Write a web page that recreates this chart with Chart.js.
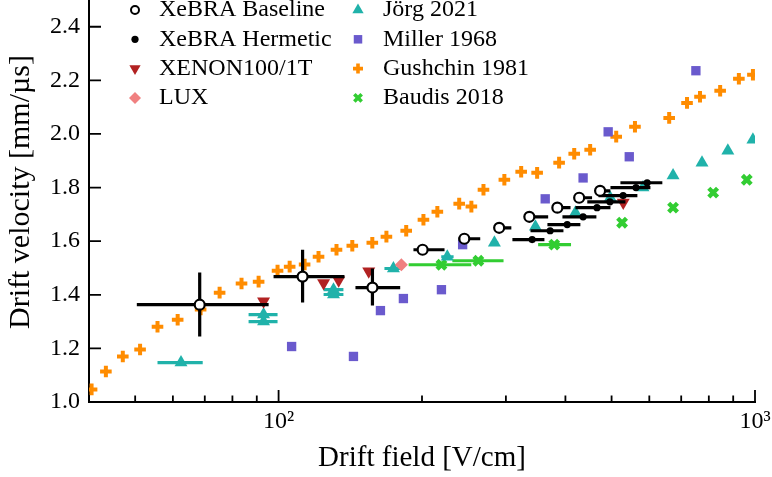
<!DOCTYPE html>
<html lang="en">
<head>
<meta charset="UTF-8">
<title>Drift velocity vs drift field</title>
<style>
  html, body { margin: 0; padding: 0; background: #fff; }
  #wrap { width: 772px; height: 477px; }
</style>
</head>
<body>
<script src="https://cdn.jsdelivr.net/npm/chart.js"></script>
<div id="wrap"><canvas id="chart" width="772" height="477"></canvas></div>
<script>
// axis ticks
const xMajorTicks = [100, 1000];
const xMajorLabels = ['10\u00B2', '10\u00B3'];
const xMinorTicks = [40, 50, 60, 70, 80, 90, 200, 300, 400, 500, 600, 700, 800, 900];
const yTickValues = [1.0, 1.2, 1.4, 1.6, 1.8, 2.0, 2.2, 2.4];
const yMin = 1.0;
const yMax = 2.567;

// XeBRA Baseline
const baseField = [68.3, 112.3, 157.4, 200.6, 245.4, 290.4, 336, 384.7, 427.5, 473];
const baseVel = [1.363, 1.468, 1.427, 1.568, 1.609, 1.650, 1.691, 1.725, 1.762, 1.788];
const baseFieldLo = [50.4, 97.6, 145, 191.9, 238.5, 284.5, 330, 378, 420, 465];
const baseFieldHi = [95.3, 137.5, 180, 223, 265, 308, 368, 410, 455, 497];
const baseVelLo = [1.244, 1.371, 1.360, null, null, null, null, null, null, null];
const baseVelHi = [1.483, 1.568, 1.498, null, null, null, null, null, null, null];

// XeBRA Hermetic
const hermField = [340.6, 371.5, 403.5, 435.7, 466, 496, 528.7, 562.6, 593.8];
const hermVel = [1.606, 1.639, 1.662, 1.691, 1.725, 1.747, 1.770, 1.800, 1.818];
const hermFieldLo = [309.6, 337.9, 366.7, 394.3, 419.8, 444.6, 469.4, 497.3, 521.8];
const hermFieldHi = [361.4, 396.2, 430, 464.6, 497.3, 534.6, 566.4, 603.2, 639];

// XENON100/1T
const xenonField = [93, 124.3, 133.7, 154.6, 529];
const xenonVel = [1.376, 1.444, 1.454, 1.488, 1.744];

// LUX
const luxField = [181];
const luxVel = [1.512];

// Jörg 2021
const jorgField = [62.4, 93, 93, 130.4, 130.4, 174.2, 226, 283.8, 346, 419.8, 496.8, 582, 673, 774, 877, 990];
const jorgVel = [1.147, 1.300, 1.326, 1.401, 1.419, 1.498, 1.542, 1.594, 1.654, 1.706, 1.762, 1.800, 1.845, 1.893, 1.937, 1.978];
const jorgFieldLo = [55.7, 86.5, 86.5, 124.3, 124.3, 166.8, 219.5, 279, null, null, null, null, null, null, null, null];
const jorgFieldHi = [69.3, 99.5, 99.5, 136.8, 136.8, 182, 233, 289, null, null, null, null, null, null, null, null];
const jorgVelLo = [null, null, null, null, null, null, 1.532, 1.584, 1.644, 1.696, 1.752, 1.790, 1.833, 1.881, 1.925, 1.966];
const jorgVelHi = [null, null, null, null, null, null, 1.552, 1.604, 1.664, 1.716, 1.772, 1.810, 1.857, 1.905, 1.949, 1.990];

// Miller 1968
const millerField = [106.5, 143.6, 163.6, 182.8, 219.7, 243.4, 362.8, 435.7, 491.8, 544.6, 751.5];
const millerVel = [1.207, 1.170, 1.341, 1.386, 1.419, 1.587, 1.758, 1.836, 2.008, 1.915, 2.236];

// Gushchin 1981
const gushField = [40.5, 43.4, 47.1, 51.2, 55.7, 61.4, 68.6, 75.2, 83.6, 90.8, 99.5, 105.5, 113.4, 121.3, 132.3, 142.8, 157.3, 168.4, 185.3, 201.4, 215.4, 239.4, 253.9, 269.2, 297.8, 323, 348.9, 388, 417.4, 450.8, 511.3, 559.8, 660.5, 720, 766.6, 845, 925, 990];
const gushVel = [1.047, 1.114, 1.170, 1.196, 1.281, 1.307, 1.345, 1.408, 1.442, 1.449, 1.490, 1.505, 1.513, 1.542, 1.568, 1.583, 1.594, 1.617, 1.639, 1.680, 1.710, 1.740, 1.729, 1.792, 1.829, 1.859, 1.855, 1.893, 1.926, 1.941, 1.990, 2.027, 2.060, 2.116, 2.139, 2.161, 2.206, 2.221];

// Baudis 2018
const baudisField = [219.7, 262.6, 379, 526, 673, 817, 961];
const baudisVel = [1.512, 1.527, 1.587, 1.669, 1.725, 1.781, 1.829];
const baudisFieldLo = [187.5, 231.6, 350.6, null, null, null, null];
const baudisFieldHi = [253.8, 296.6, 411, null, null, null, null];

function pts(xs, ys) {
    return xs.map((v, i) => ({ x: v, y: ys[i] }));
}

Chart.defaults.font.family = '"Liberation Serif", "Times New Roman", serif';
Chart.defaults.color = '#000';

// the original figure is cropped at the top: let the plot area start above the canvas
const plotTop = -18;
const extendTop = {
    id: 'extendTop',
    afterLayout(chart) {
        const y = chart.scales.y;
        const a = chart.chartArea;
        y.top = plotTop;
        y.height = y.bottom - y.top;
        a.top = plotTop;
        a.height = a.bottom - a.top;
        y.configure();
    }
};

// error bars drawn just under each dataset's markers
const errorBars = {
    id: 'errorBars',
    beforeDatasetDraw(chart, args) {
        const ds = chart.data.datasets[args.index];
        if (!ds.xLo && !ds.yLo) return;
        const { ctx, chartArea: a, scales: { x, y } } = chart;
        ctx.save();
        ctx.beginPath();
        ctx.rect(a.left, a.top, a.right - a.left, a.bottom - a.top);
        ctx.clip();
        ctx.strokeStyle = ds.errColor;
        ctx.lineWidth = ds.errWidth;
        ctx.beginPath();
        ds.data.forEach((p, i) => {
            const px = x.getPixelForValue(p.x);
            const py = y.getPixelForValue(p.y);
            if (ds.xLo && ds.xLo[i] != null) {
                ctx.moveTo(x.getPixelForValue(ds.xLo[i]), py);
                ctx.lineTo(x.getPixelForValue(ds.xHi[i]), py);
            }
            if (ds.yLo && ds.yLo[i] != null) {
                ctx.moveTo(px, y.getPixelForValue(ds.yLo[i]));
                ctx.lineTo(px, y.getPixelForValue(ds.yHi[i]));
            }
        });
        ctx.stroke();
        ctx.restore();
    }
};

// inward ticks like matplotlib
const axisTicks = {
    id: 'axisTicks',
    afterDatasetsDraw(chart) {
        const { ctx, chartArea: a, scales: { x, y } } = chart;
        ctx.save();
        ctx.strokeStyle = '#000';
        ctx.lineWidth = 1.8;
        ctx.beginPath();
        xMajorTicks.forEach(v => {
            const px = x.getPixelForValue(v);
            ctx.moveTo(px, a.bottom);
            ctx.lineTo(px, a.bottom - 12);
        });
        xMinorTicks.forEach(v => {
            const px = x.getPixelForValue(v);
            ctx.moveTo(px, a.bottom);
            ctx.lineTo(px, a.bottom - 6.5);
        });
        yTickValues.forEach(v => {
            const py = y.getPixelForValue(v);
            ctx.moveTo(a.left, py);
            ctx.lineTo(a.left + 12, py);
        });
        ctx.stroke();
        ctx.restore();
    }
};

// two column legend, top left
const legendCols = {
    id: 'legendCols',
    afterDraw(chart) {
        const ctx = chart.ctx;
        ctx.save();
        chart.data.datasets.forEach((ds, i) => {
            const col = Math.floor(i / 4);
            const row = i % 4;
            const mx = [135, 358][col];
            const tx = [159, 383][col];
            const my = 10 + row * 29.3;
            ctx.fillStyle = ds.pointBackgroundColor;
            ctx.strokeStyle = ds.pointBorderColor;
            ctx.lineWidth = ds.legendBorder;
            Chart.helpers.drawPoint(ctx, {
                pointStyle: ds.pointStyle,
                radius: ds.legendRadius,
                rotation: ds.pointRotation || 0,
                borderWidth: ds.legendBorder
            }, mx, my);
            ctx.fillStyle = '#000';
            ctx.font = '24px "Liberation Serif", "Times New Roman", serif';
            ctx.textBaseline = 'middle';
            ctx.textAlign = 'left';
            ctx.fillText(ds.label, tx, my);
        });
        ctx.restore();
    }
};

const ctx = document.getElementById('chart').getContext('2d');

const chart = new Chart(ctx, {
    type: 'scatter',
    data: {
        datasets: [
            {
                label: 'XeBRA Baseline',
                data: pts(baseField, baseVel),
                pointStyle: 'circle', pointRadius: 5, borderWidth: 2.2,
                pointBackgroundColor: '#fff', pointBorderColor: '#000',
                xLo: baseFieldLo, xHi: baseFieldHi, yLo: baseVelLo, yHi: baseVelHi,
                errColor: '#000', errWidth: 3.2,
                legendRadius: 4, legendBorder: 2
            },
            {
                label: 'XeBRA Hermetic',
                data: pts(hermField, hermVel),
                pointStyle: 'circle', pointRadius: 3.6, borderWidth: 0,
                pointBackgroundColor: '#000', pointBorderColor: '#000',
                xLo: hermFieldLo, xHi: hermFieldHi,
                errColor: '#000', errWidth: 3.2,
                legendRadius: 3.6, legendBorder: 0
            },
            {
                label: 'XENON100/1T',
                data: pts(xenonField, xenonVel),
                pointStyle: 'triangle', pointRotation: 180, pointRadius: 7.5, borderWidth: 0,
                pointBackgroundColor: '#b22222', pointBorderColor: '#b22222',
                legendRadius: 6.5, legendBorder: 0
            },
            {
                label: 'LUX',
                data: pts(luxField, luxVel),
                pointStyle: 'rectRot', pointRadius: 6.5, borderWidth: 0,
                pointBackgroundColor: '#f08080', pointBorderColor: '#f08080',
                legendRadius: 6, legendBorder: 0
            },
            {
                label: 'J\u00F6rg 2021',
                data: pts(jorgField, jorgVel),
                pointStyle: 'triangle', pointRadius: 7.5, borderWidth: 0,
                pointBackgroundColor: '#20b2aa', pointBorderColor: '#20b2aa',
                xLo: jorgFieldLo, xHi: jorgFieldHi, yLo: jorgVelLo, yHi: jorgVelHi,
                errColor: '#20b2aa', errWidth: 3.2,
                legendRadius: 6.5, legendBorder: 0
            },
            {
                label: 'Miller 1968',
                data: pts(millerField, millerVel),
                pointStyle: 'rect', pointRadius: 6.6, borderWidth: 0,
                pointBackgroundColor: '#6a5acd', pointBorderColor: '#6a5acd',
                legendRadius: 6, legendBorder: 0
            },
            {
                label: 'Gushchin 1981',
                data: pts(gushField, gushVel),
                pointStyle: 'cross', pointRadius: 5.8, borderWidth: 4,
                pointBackgroundColor: '#ff8c00', pointBorderColor: '#ff8c00',
                legendRadius: 5, legendBorder: 3.6
            },
            {
                label: 'Baudis 2018',
                data: pts(baudisField, baudisVel),
                pointStyle: 'crossRot', pointRadius: 6.2, borderWidth: 4.4,
                pointBackgroundColor: '#32cd32', pointBorderColor: '#32cd32',
                xLo: baudisFieldLo, xHi: baudisFieldHi,
                errColor: '#32cd32', errWidth: 3.2,
                legendRadius: 5.2, legendBorder: 3.6
            }
        ]
    },
    options: {
        responsive: false,
        animation: false,
        devicePixelRatio: 1,
        layout: { padding: { top: 0, right: 17, left: 0, bottom: 0 } },
        plugins: {
            legend: { display: false },
            tooltip: { enabled: false }
        },
        scales: {
            x: {
                type: 'logarithmic',
                min: 40,
                max: 1000,
                afterFit: s => {
                    s.height = 75;
                    s.paddingLeft = 0;
                    s.paddingRight = 0;
                },
                afterBuildTicks: s => {
                    s.ticks = xMinorTicks.concat(xMajorTicks).sort((a, b) => a - b).map(v => ({ value: v }));
                },
                grid: { display: false, drawTicks: false },
                border: { display: true, color: '#000', width: 2 },
                ticks: {
                    autoSkip: false,
                    maxRotation: 0,
                    padding: 5,
                    color: '#000',
                    font: { size: 24 },
                    callback: v => {
                        const k = xMajorTicks.indexOf(v);
                        return k >= 0 ? xMajorLabels[k] : '';
                    }
                },
                title: {
                    display: true,
                    text: 'Drift field [V/cm]',
                    color: '#000',
                    font: { size: 29 },
                    padding: { top: 0, bottom: 1 }
                }
            },
            y: {
                min: yMin,
                max: yMax,
                afterFit: s => {
                    s.width = 89;
                    s.paddingTop = 0;
                    s.paddingBottom = 0;
                },
                afterBuildTicks: s => {
                    s.ticks = yTickValues.map(v => ({ value: v }));
                    s.min = yMin;
                    s.max = yMax;
                },
                grid: { display: false, drawTicks: false },
                border: { display: true, color: '#000', width: 2 },
                ticks: {
                    padding: 9,
                    color: '#000',
                    font: { size: 24 },
                    callback: v => v.toFixed(1)
                },
                title: {
                    display: true,
                    text: 'Drift velocity [mm/\u00B5s]',
                    color: '#000',
                    font: { size: 30 },
                    padding: { top: 3, bottom: 0 }
                }
            }
        }
    },
    plugins: [extendTop, errorBars, axisTicks, legendCols]
});
</script>
</body>
</html>
